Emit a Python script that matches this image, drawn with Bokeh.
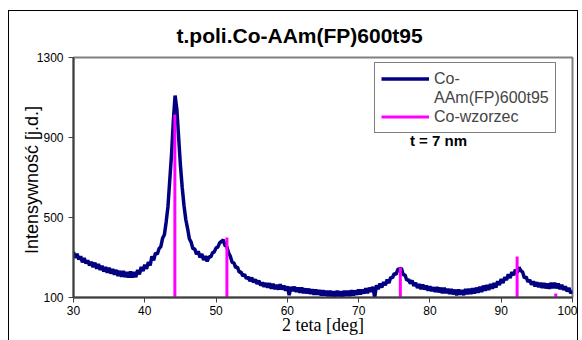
from bokeh.plotting import figure
from bokeh.models import Legend, LegendItem, Range1d, FixedTicker, Label
from bokeh.embed import file_html
from bokeh.resources import INLINE

# ---- data ----
two_theta_start = 30.0
two_theta_step = 0.25
intensity = [
    328, 299, 319, 290,   # 30
    306, 276, 297, 270,   # 31
    286, 260, 279, 252,   # 32
    274, 244, 267, 238,   # 33
    258, 230, 253, 224,   # 34
    248, 220, 243, 214,   # 35
    238, 208, 233, 204,   # 36
    232, 202, 227, 200,   # 37
    230, 200, 227, 202,   # 38
    238, 216, 253, 232,   # 39
    264, 244, 277, 260,   # 40
    306, 286, 323, 316,   # 41
    344, 354, 397, 414,   # 42
    478, 554, 685, 814,   # 43
    980, 1110, 1040, 900,  # 44
    760, 650, 560, 490,   # 45
    446, 394, 377, 344,   # 46
    344, 316, 331, 300,   # 47
    318, 288, 307, 280,   # 48
    304, 302, 323, 328,   # 49
    348, 352, 373, 380,   # 50
    388, 360, 355, 324,   # 51
    306, 276, 273, 250,   # 52
    252, 226, 227, 208,   # 53
    216, 194, 203, 182,   # 54
    200, 176, 191, 168,   # 55
    184, 160, 175, 154,   # 56
    172, 150, 171, 144,   # 57
    168, 142, 163, 140,   # 58
    166, 140, 159, 134,   # 59
    156, 112, 153, 132,   # 60
    154, 128, 149, 124,   # 61
    150, 122, 145, 120,   # 62
    144, 118, 141, 114,   # 63
    140, 114, 137, 110,   # 64
    136, 110, 133, 106,   # 65
    134, 106, 131, 104,   # 66
    134, 106, 131, 104,   # 67
    134, 108, 133, 108,   # 68
    136, 110, 135, 114,   # 69
    140, 116, 139, 120,   # 70
    146, 122, 149, 128,   # 71
    154, 100, 161, 142,   # 72
    170, 150, 177, 162,   # 73
    190, 172, 201, 198,   # 74
    220, 216, 241, 242,   # 75
    246, 214, 213, 186,   # 76
    190, 170, 185, 158,   # 77
    174, 148, 167, 142,   # 78
    164, 140, 159, 134,   # 79
    156, 132, 151, 128,   # 80
    152, 126, 149, 122,   # 81
    148, 122, 143, 118,   # 82
    142, 116, 139, 112,   # 83
    140, 114, 137, 112,   # 84
    142, 116, 143, 118,   # 85
    146, 120, 149, 124,   # 86
    154, 128, 159, 134,   # 87
    162, 138, 167, 144,   # 88
    172, 150, 181, 162,   # 89
    192, 172, 201, 188,   # 90
    216, 198, 227, 212,   # 91
    240, 224, 251, 234,   # 92
    228, 198, 203, 178,   # 93
    188, 164, 181, 156,   # 94
    176, 152, 173, 148,   # 95
    172, 146, 169, 144,   # 96
    174, 146, 173, 146,   # 97
    170, 142, 163, 138,   # 98
    156, 130, 149, 122,   # 99
    134,                  # 100
]
two_theta = [two_theta_start + i * two_theta_step for i in range(len(intensity))]

ref_positions = [44.22, 51.52, 75.85, 92.23, 97.65]
ref_intensity = [1015, 400, 250, 305, 120]
ref_base = [100, 100, 100, 100, 100]

x_ticks = [30, 40, 50, 60, 70, 80, 90, 100]
y_ticks = [100, 500, 900, 1300]

title_text = "t.poli.Co-AAm(FP)600t95"
series_name_1 = "Co-"
series_name_1b = "AAm(FP)600t95"
series_name_2 = "Co-wzorzec"
note_text = "t = 7 nm"
x_label = "2 teta [deg]"
y_label = "Intensywność  [j.d.]"

SANS = "Liberation Sans"
SERIF = "Liberation Serif"

p = figure(width=570, height=330, output_backend="svg", toolbar_location=None,
           title=title_text, x_range=Range1d(30, 100), y_range=Range1d(100, 1300),
           min_border_left=64, min_border_right=7, min_border_top=46,
           min_border_bottom=44)
p.margin = (10, 0, 0, 8)
p.styles = {"border-top": "1px solid black", "border-left": "1px solid black",
            "border-right": "1px solid black", "box-sizing": "border-box"}
p.background_fill_color = "white"
p.border_fill_color = "white"
p.outline_line_color = "#808080"
p.outline_line_width = 2
p.xgrid.visible = False
p.ygrid.visible = False

p.title.text_font = SANS
p.title.text_font_size = "21px"
p.title.text_font_style = "bold"
p.title.text_color = "black"
p.title.align = "left"
p.title.offset = 103
p.title.vertical_align = "middle"
p.title.standoff = 19

for ax in (p.xaxis, p.yaxis):
    ax.axis_line_color = "#404040"
    ax.axis_line_width = 2
    ax.major_tick_line_color = "#404040"
    ax.major_tick_line_width = 1
    ax.major_tick_out = 5
    ax.major_tick_in = 0
    ax.minor_tick_line_color = None
    ax.major_label_text_font = SANS
    ax.major_label_text_font_size = "12px"
    ax.major_label_text_color = "black"
    ax.axis_label_text_font_style = "normal"
    ax.axis_label_text_color = "black"

p.xaxis.ticker = FixedTicker(ticks=x_ticks, minor_ticks=[])
p.yaxis.ticker = FixedTicker(ticks=y_ticks, minor_ticks=[])
p.xaxis.major_label_standoff = 3
p.yaxis.major_label_standoff = 5

p.xaxis.axis_label = x_label
p.xaxis.axis_label_text_font = SERIF
p.xaxis.axis_label_text_font_size = "18px"
p.xaxis.axis_label_standoff = -3
p.yaxis.axis_label = y_label
p.yaxis.axis_label_text_font = SANS
p.yaxis.axis_label_text_font_size = "18px"
p.yaxis.axis_label_standoff = -8

line_r = p.line(two_theta, intensity, line_color="#000080", line_width=3.5)
seg_r = p.segment(x0=ref_positions, y0=ref_base, x1=ref_positions, y1=ref_intensity,
                  line_color="#FF00FF", line_width=3)
ghost = p.line(x=[], y=[], line_alpha=0)

legend = Legend(items=[
    LegendItem(label=series_name_1, renderers=[line_r]),
    LegendItem(label=series_name_1b, renderers=[ghost]),
    LegendItem(label=series_name_2, renderers=[seg_r]),
], location=(301, 164))
legend.border_line_color = "black"
legend.border_line_width = 1
legend.background_fill_color = "white"
legend.background_fill_alpha = 1
legend.label_text_font = SANS
legend.label_text_font_size = "16px"
legend.glyph_width = 48
legend.glyph_height = 19
legend.label_height = 19
legend.spacing = 0
legend.padding = 6
legend.label_standoff = 5
legend.margin = 0
p.add_layout(legend)

p.add_layout(Label(x=365, y=157, x_units="screen", y_units="screen", text=note_text,
                   text_font=SANS, text_font_size="15px", text_font_style="bold",
                   text_align="center", text_baseline="middle", text_color="black"))

open("out.html", "w").write(file_html(p, INLINE))
